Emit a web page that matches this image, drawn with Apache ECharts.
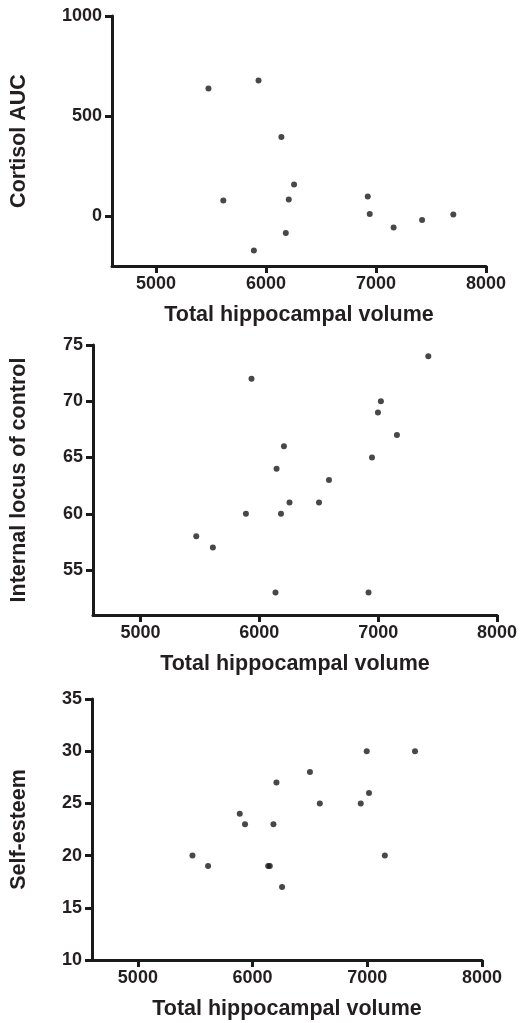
<!DOCTYPE html>
<html>
<head>
<meta charset="utf-8">
<script src="https://cdn.jsdelivr.net/npm/echarts@6/dist/echarts.min.js"></script>
<style>
html,body{margin:0;padding:0;background:#fff;}
#c{width:520px;height:1023px;}
</style>
</head>
<body>
<div id="c"></div>
<script>
// ---- Data ----
const xTicks = [5000, 6000, 7000, 8000];
const xName = 'Total hippocampal volume';

const cortisolX = [5477, 5932, 6140, 5612, 6255, 6207, 6180, 5890, 6925, 6943, 7160, 7419, 7703];
const cortisolY = [638, 677, 395, 77, 158, 83, -85, -172, 97, 10, -57, -20, 7];
const cortisolTicks = [0, 500, 1000];

const locusX = [5934, 7422, 7023, 6998, 7158, 6948, 6207, 6145, 6586, 5887, 6182, 6254, 6502, 5469, 5609, 6136, 6919];
const locusY = [72, 74, 70, 69, 67, 65, 66, 64, 63, 60, 60, 61, 61, 58, 57, 53, 53];
const locusTicks = [55, 60, 65, 70, 75];

const esteemX = [5476, 5612, 5888, 5934, 6136, 6150, 6182, 6208, 6257, 6500, 6586, 6943, 6995, 7015, 7153, 7416];
const esteemY = [20, 19, 24, 23, 19, 19, 23, 27, 17, 28, 25, 25, 30, 26, 20, 30];
const esteemTicks = [10, 15, 20, 25, 30, 35];

// ---- Styles ----
const FONT = '"Liberation Sans", Arial, Helvetica, sans-serif';
const TXT = '#231f20';
const lineStyle = { color: '#1a1a1a', width: 3 };
const tickStyle = { color: '#1a1a1a', width: 3 };
const plain = v => String(v);

function pairs(xs, ys) { return xs.map((x, i) => [x, ys[i]]); }

function xAxis(gi) {
  return {
    type: 'value', gridIndex: gi, min: 4600, max: 8000,
    name: xName, nameLocation: 'middle', nameGap: 38,
    nameTextStyle: { fontFamily: FONT, fontWeight: 'bold', fontSize: 21.5, color: TXT },
    axisLine: { show: true, onZero: false, lineStyle: lineStyle },
    axisTick: { show: true, length: 7, lineStyle: tickStyle, customValues: xTicks },
    axisLabel: { fontFamily: FONT, fontWeight: 'bold', fontSize: 18, color: TXT, margin: 9, customValues: xTicks, formatter: plain },
    splitLine: { show: false }
  };
}
function yAxis(gi, name, min, max, ticks, gap) {
  return {
    type: 'value', gridIndex: gi, min: min, max: max,
    name: name, nameLocation: 'middle', nameGap: gap,
    nameTextStyle: { fontFamily: FONT, fontWeight: 'bold', fontSize: 21.5, color: TXT },
    axisLine: { show: true, onZero: false, lineStyle: lineStyle },
    axisTick: { show: true, length: 7, lineStyle: tickStyle, customValues: ticks },
    axisLabel: { fontFamily: FONT, fontWeight: 'bold', fontSize: 18, color: TXT, margin: 10, customValues: ticks, formatter: plain },
    splitLine: { show: false }
  };
}
function scatter(gi, data) {
  return {
    type: 'scatter', xAxisIndex: gi, yAxisIndex: gi, data: data,
    symbol: 'circle', symbolSize: 6,
    itemStyle: { color: '#1a1a1a' }, silent: true
  };
}

const chart = echarts.init(document.getElementById('c'), null, { renderer: 'canvas' });
chart.setOption({
  backgroundColor: '#fff',
  animation: false,
  grid: [
    { left: 111, right: 34, top: 16, height: 250 },
    { left: 93, right: 22, top: 345, height: 270 },
    { left: 91, right: 38, top: 699, height: 261 }
  ],
  xAxis: [xAxis(0), xAxis(1), xAxis(2)],
  yAxis: [
    yAxis(0, 'Cortisol AUC', -250, 1000, cortisolTicks, 82),
    yAxis(1, 'Internal locus of control', 51, 75, locusTicks, 63),
    yAxis(2, 'Self-esteem', 10, 35, esteemTicks, 62)
  ],
  series: [
    scatter(0, pairs(cortisolX, cortisolY)),
    scatter(1, pairs(locusX, locusY)),
    scatter(2, pairs(esteemX, esteemY))
  ]
});
</script>
</body>
</html>
